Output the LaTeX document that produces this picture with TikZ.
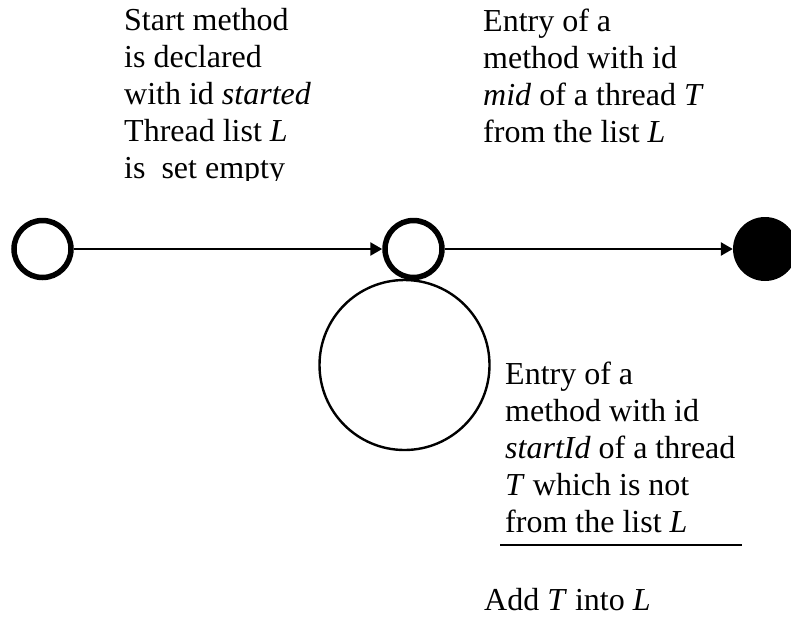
\documentclass[tikz,border=0pt]{standalone}
\usepackage{fontspec}
\setmainfont{Liberation Serif}
\usetikzlibrary{arrows.meta}

\tikzset{
  state/.style={circle, draw=black, line width=5.5pt, minimum size=57pt, inner sep=0pt},
  final/.style={circle, fill=black, minimum size=64pt, inner sep=0pt},
  selfloop/.style={circle, draw=black, line width=2.4pt, minimum size=170pt, inner sep=0pt},
  trans/.style={line width=2.6pt, -{Triangle[length=12pt,width=13pt]}},
  % multi-line labels: base is the baseline of the last line
  desc/.style={font=\fontsize{32}{36.8}\selectfont, align=left, inner sep=0pt, anchor=base west},
}

\begin{document}
\begin{tikzpicture}[x=1pt, y=-1pt]
  \useasboundingbox (0,0) rectangle (791,616);

  % States
  \node[state] (start) at (42.5,249) {};
  \node[state] (mid) at (413.5,249) {};
  \node[final] (stop) at (765,249) {};
  % loop on the middle state
  \node[selfloop] (loop) at (404.5,365) {};

  % Transitions
  \draw[trans] (start) -- (mid);
  \draw[trans] (mid) -- (stop);

  % Labels
  \begin{scope}
    \clip (0,0) rectangle (791,180.5);
    \node[desc] (startlbl) at (124,178) {Start method\\is declared\\with id \textit{started}\\Thread list \textit{L}\\is\ \ set empty};
  \end{scope}
  \node[desc] (midlbl) at (483,142) {Entry of a\\method with id\\\textit{mid} of a thread \textit{T}\\from the list \textit{L}};
  \node[desc] (looplbl) at (505,532) {Entry of a\\method with id\\\textit{startId} of a thread\\\textit{T} which is not\\from the list \textit{L}};
  \draw[line width=2.4pt] (500,545) -- (742,545);
  \node[desc] (action) at (484,610) {Add \textit{T} into \textit{L}};
\end{tikzpicture}
\end{document}
